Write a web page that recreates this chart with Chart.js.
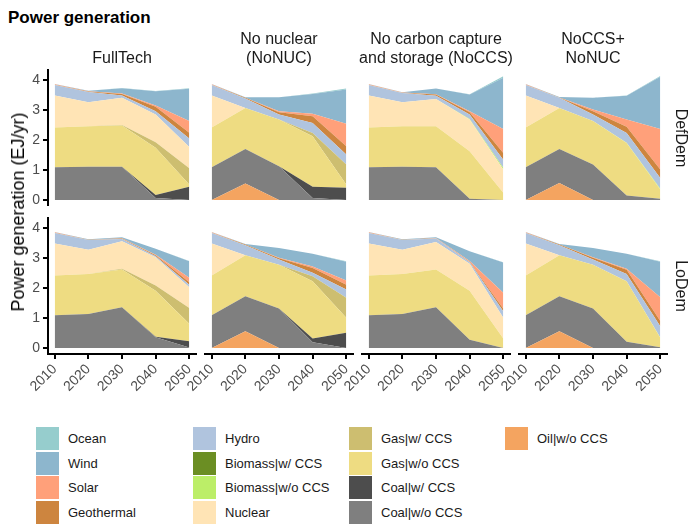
<!DOCTYPE html>
<html><head><meta charset="utf-8">
<script src="https://cdn.jsdelivr.net/npm/chart.js@4.4.1/dist/chart.umd.min.js"></script>
<style>
body{margin:0;width:688px;height:525px;position:relative;background:#fff;font-family:"Liberation Sans",Arial,sans-serif;overflow:hidden}
canvas{position:absolute}
.t{position:absolute;white-space:nowrap;color:#1a1a1a}
.lg{position:absolute;font-size:13px;color:#1a1a1a}
.key{position:absolute;width:23px;height:23px}
</style></head><body>
<script>
// ---- data ----
const years = [2010, 2020, 2030, 2040, 2050];
const yTicks = [0, 1, 2, 3, 4];
const scenarios = ['FullTech', 'No nuclear\n(NoNUC)', 'No carbon capture\nand storage (NoCCS)', 'NoCCS+\nNoNUC'];
const demands = ['DefDem', 'LoDem'];
// each row = one panel: DefDem x 4 scenarios, then LoDem x 4 scenarios
const oilWoCCS = [
  [0,0,0,0,0],[0,0.55,0,0,0],[0,0,0,0,0],[0,0.57,0,0,0],
  [0,0,0,0,0],[0,0.56,0,0,0],[0,0,0,0,0],[0,0.56,0,0,0]];
const coalWoCCS = [
  [1.10,1.11,1.11,0.07,0],[1.10,1.16,1.13,0.07,0],[1.10,1.11,1.10,0.04,0],[1.10,1.14,1.19,0.15,0.04],
  [1.10,1.14,1.36,0.36,0.02],[1.10,1.17,1.32,0.19,0],[1.10,1.14,1.36,0.28,0],[1.10,1.17,1.32,0.21,0.03]];
const coalWCCS = [
  [0,0,0,0.10,0.44],[0,0,0,0.37,0.41],[0,0,0,0,0],[0,0,0,0,0],
  [0,0,0,0.02,0.21],[0,0,0,0.13,0.51],[0,0,0,0,0],[0,0,0,0,0]];
const gasWoCCS = [
  [1.33,1.36,1.38,1.58,0.08],[1.33,1.37,1.56,1.69,0.11],[1.33,1.36,1.37,1.59,0.24],[1.33,1.37,1.45,1.76,0.31],
  [1.33,1.34,1.27,1.54,0.58],[1.33,1.37,1.47,1.91,0.50],[1.33,1.34,1.27,1.64,0.32],[1.33,1.37,1.47,2.02,0.31]];
const gasWCCS = [
  [0,0,0.02,0.18,0.54],[0,0,0,0.11,0.67],[0,0,0,0,0],[0,0,0,0,0],
  [0,0,0.02,0.17,0.53],[0,0,0,0.17,0.67],[0,0,0,0,0],[0,0,0,0,0]];
const nuclear = [
  [1.07,0.80,0.91,0.93,0.71],[1.07,0,0,0,0],[1.07,0.80,0.91,1.06,0.78],[1.07,0,0,0,0],
  [1.07,0.81,0.92,0.95,0.69],[1.07,0,0,0,0],[1.07,0.81,0.92,0.90,0.69],[1.07,0,0,0,0]];
const biomassWoCCS = [
  [0,0,0,0,0],[0,0,0,0,0],[0,0,0,0.02,0.05],[0,0,0,0.01,0.03],
  [0,0,0,0,0],[0,0,0,0,0],[0,0,0,0,0],[0,0,0,0,0.01]];
const biomassWCCS = [
  [0,0,0,0,0],[0,0,0,0,0],[0,0,0,0,0],[0,0,0,0,0],
  [0,0,0,0,0],[0,0,0,0,0],[0,0,0,0,0],[0,0,0,0,0]];
const hydro = [
  [0.35,0.34,0.08,0.11,0.29],[0.35,0.32,0.17,0.34,0.33],[0.35,0.31,0.11,0.15,0.28],[0.35,0.34,0.22,0.32,0.36],
  [0.35,0.32,0.08,0.03,0.09],[0.35,0.34,0.17,0.12,0.28],[0.35,0.32,0.11,0.05,0.22],[0.35,0.34,0.17,0.25,0.38]];
const geothermal = [
  [0.01,0.02,0.05,0.15,0.19],[0.01,0.02,0.08,0.22,0.28],[0.01,0.01,0.04,0.08,0.22],[0.01,0.01,0.11,0.21,0.28],
  [0.01,0.01,0.01,0.03,0.08],[0.01,0.02,0.04,0.16,0.16],[0.01,0.01,0.01,0.02,0.08],[0.01,0.02,0.06,0.14,0.17]];
const solar = [
  [0.01,0.005,0.01,0.04,0.39],[0.01,0,0.03,0.09,0.75],[0.01,0.005,0.01,0.03,0.81],[0.01,0,0.06,0.24,1.36],
  [0.01,0.005,0.01,0.02,0.15],[0.01,0,0.02,0.05,0.14],[0.01,0.005,0.01,0.02,0.54],[0.01,0,0.02,0.03,0.80]];
const wind = [
  [0.01,0.02,0.18,0.48,1.08],[0.01,0.02,0.47,0.66,1.15],[0.01,0.01,0.19,0.56,1.71],[0.01,0.02,0.39,0.80,1.74],
  [0.01,0.01,0.04,0.20,0.55],[0.01,0.02,0.33,0.42,0.63],[0.01,0.01,0.03,0.33,1.01],[0.01,0.02,0.31,0.50,1.19]];
const ocean = [
  [0,0,0.01,0.01,0.02],[0,0,0,0.01,0.03],[0,0,0,0.01,0.05],[0,0,0,0.01,0.03],
  [0,0,0,0,0.01],[0,0,0,0,0.01],[0,0,0,0,0.01],[0,0,0,0,0.01]];

// stacking order bottom -> top
const series = [
  {name:'Oil|w/o CCS', color:'#F4A460', data:oilWoCCS},
  {name:'Coal|w/o CCS', color:'#7F7F7F', data:coalWoCCS},
  {name:'Coal|w/ CCS', color:'#4D4D4D', data:coalWCCS},
  {name:'Gas|w/o CCS', color:'#EEDC82', data:gasWoCCS},
  {name:'Gas|w/ CCS', color:'#CDBE70', data:gasWCCS},
  {name:'Nuclear', color:'#FFE4B5', data:nuclear},
  {name:'Biomass|w/o CCS', color:'#BCEE68', data:biomassWoCCS},
  {name:'Biomass|w/ CCS', color:'#6B8E23', data:biomassWCCS},
  {name:'Hydro', color:'#B0C4DE', data:hydro},
  {name:'Geothermal', color:'#CD853F', data:geothermal},
  {name:'Solar', color:'#FFA07A', data:solar},
  {name:'Wind', color:'#8DB6CD', data:wind},
  {name:'Ocean', color:'#96CDCD', data:ocean}
];

// ---- layout ----
const colLeft = [48, 205, 362, 519], panelW = 148;
const rowTop = [70, 218], panelH = 136;
const FONT = '"Liberation Sans", Arial, sans-serif';

function addText(txt, css){ const d=document.createElement('div'); d.className='t'; d.textContent=txt; Object.assign(d.style, css); document.body.appendChild(d); return d; }

for (let r = 0; r < 2; r++) {
  for (let c = 0; c < 4; c++) {
    const p = r*4 + c;
    const padL = c === 0 ? 48 : 30, padR = 30, padT = 10, padB = r === 1 ? 55 : 0;
    const cv = document.createElement('canvas');
    const w = panelW + padL + padR, h = panelH + padT + padB;
    cv.width = w; cv.height = h;
    cv.style.left = (colLeft[c] - padL) + 'px'; cv.style.top = (rowTop[r] - padT) + 'px';
    cv.style.width = w + 'px'; cv.style.height = h + 'px';
    document.body.appendChild(cv);
    const datasets = series.map((s, i) => ({
      label: s.name,
      data: years.map((y, k) => ({x: y, y: s.data[p][k]})),
      backgroundColor: s.color, borderColor: s.color, borderWidth: 0,
      pointRadius: 0, tension: 0, fill: i === 0 ? 'origin' : '-1'
    }));
    const fixPad = s => { s.paddingLeft = 0; s.paddingRight = 0; s.paddingTop = 0; s.paddingBottom = 0; };
    new Chart(cv, {
      type: 'line',
      data: {datasets},
      options: {
        responsive: false, animation: false, devicePixelRatio: 1,
        layout: {padding: {left: c === 0 ? 0 : padL, right: padR, top: padT, bottom: 0}},
        plugins: {legend: {display: false}, tooltip: {enabled: false}},
        elements: {line: {borderWidth: 0}},
        scales: {
          x: {
            type: 'linear', min: 2008, max: 2052, display: r === 1,
            afterBuildTicks: s => { s.ticks = years.map(v => ({value: v})); },
            afterFit: s => { if (r === 1) { s.height = padB; fixPad(s); } },
            border: {display: true, color: '#000', width: 2},
            grid: {display: true, drawOnChartArea: false, drawTicks: true, tickLength: 5, color: '#000', lineWidth: 2},
            ticks: {color: '#4D4D4D', font: {family: FONT, size: 14}, minRotation: 45, maxRotation: 45, padding: 2, autoSkip: false,
                    callback: v => String(v)}
          },
          y: {
            type: 'linear', min: -0.2, max: 4.35, stacked: true, display: c === 0,
            afterBuildTicks: s => { s.ticks = yTicks.map(v => ({value: v})); },
            afterFit: s => { if (c === 0) { s.width = 48; fixPad(s); } },
            border: {display: true, color: '#000', width: 2},
            grid: {display: true, drawOnChartArea: false, drawTicks: true, tickLength: 5, color: '#000', lineWidth: 2},
            ticks: {color: '#4D4D4D', font: {family: FONT, size: 14}, padding: 3, callback: v => String(v)}
          }
        }
      }
    });
  }
}

// strip labels (top)
scenarios.forEach((s, c) => {
  const lines = s.split('\n');
  const d = addText('', {left: (colLeft[c] + panelW/2 - 100) + 'px', width: '200px', textAlign: 'center',
    top: (57 - 9.5 - (lines.length - 1) * 19) + 'px', fontSize: '16px', lineHeight: '19px', whiteSpace: 'pre'});
  d.textContent = s;
});
// strip labels (right)
demands.forEach((s, r) => {
  addText(s, {left: '681px', top: (rowTop[r] + panelH/2) + 'px', fontSize: '16px', lineHeight: '16px',
    transform: 'translate(-50%,-50%) rotate(90deg)'});
});
// title and axis title
addText('Power generation', {left: '8px', top: '8px', fontSize: '17px', fontWeight: 'bold', color: '#000'});
addText('Power generation (EJ/yr)', {left: '18px', top: '212px', fontSize: '18px', lineHeight: '18px', color: '#000',
  transform: 'translate(-50%,-50%) rotate(-90deg)'});

// legend (column-major, top of stack first)
const legendOrder = series.slice().reverse();
const legCols = [36, 193, 349, 505], legRows = [427, 451.5, 476, 500.5];
legendOrder.forEach((s, i) => {
  const c = Math.floor(i / 4), r = i % 4;
  const k = document.createElement('div'); k.className = 'key';
  k.style.left = legCols[c] + 'px'; k.style.top = legRows[r] + 'px'; k.style.background = s.color;
  document.body.appendChild(k);
  const t = document.createElement('div'); t.className = 'lg'; t.textContent = s.name;
  t.style.left = (legCols[c] + 32) + 'px'; t.style.top = (legRows[r] + 4) + 'px';
  document.body.appendChild(t);
});
</script>
</body></html>
